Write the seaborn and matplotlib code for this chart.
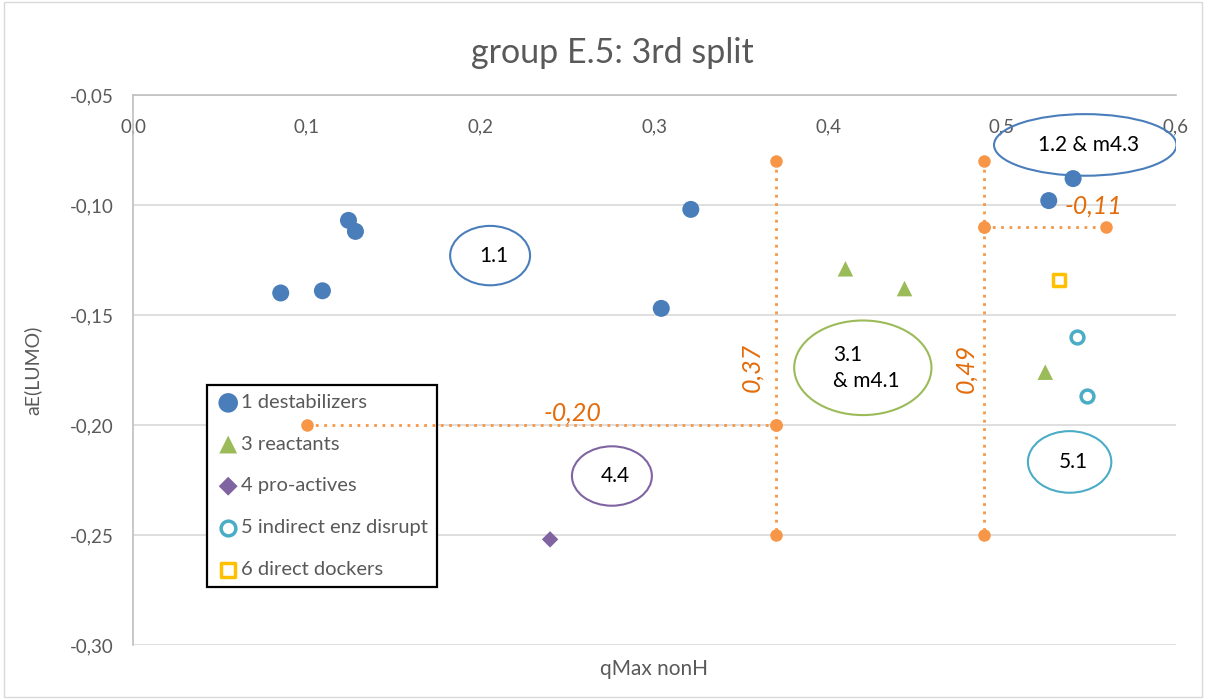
import numpy as np
import pandas as pd
import seaborn as sns
import matplotlib.pyplot as plt
from matplotlib.patches import Ellipse, Rectangle
from matplotlib.ticker import FuncFormatter, MultipleLocator

# points (qMax nonH, aE(LUMO))
destab_x = [0.085, 0.109, 0.124, 0.128, 0.304, 0.321, 0.527, 0.541]
destab_y = [-0.140, -0.139, -0.107, -0.112, -0.147, -0.102, -0.098, -0.088]
react_x = [0.410, 0.444, 0.525]
react_y = [-0.129, -0.138, -0.176]
proact_x = [0.240]
proact_y = [-0.252]
indirect_x = [0.543, 0.549]
indirect_y = [-0.160, -0.187]
docker_x = [0.533]
docker_y = [-0.134]

# split lines (orange dotted)
split_lines = [
    ([0.37, 0.37, 0.37], [-0.08, -0.20, -0.25]),
    ([0.10, 0.37], [-0.20, -0.20]),
    ([0.49, 0.49, 0.49], [-0.08, -0.11, -0.25]),
    ([0.49, 0.56], [-0.11, -0.11]),
]

# cluster ellipses: label, centre x, centre y, width, height, colour
cluster_labels = ["1.1", "1.2 & m4.3", "3.1\n& m4.1", "4.4", "5.1"]
cluster_x = [0.2055, 0.548, 0.420, 0.2756, 0.539]
cluster_y = [-0.123, -0.0727, -0.174, -0.2232, -0.2168]
cluster_w = [0.046, 0.105, 0.079, 0.046, 0.048]
cluster_h = [0.027, 0.028, 0.043, 0.027, 0.028]
cluster_col = ["#4a7ebb", "#4a7ebb", "#9bbb59", "#8064a2", "#4bacc6"]

data = pd.DataFrame({
    "x": destab_x + react_x + proact_x + indirect_x + docker_x,
    "y": destab_y + react_y + proact_y + indirect_y + docker_y,
    "group": (["1 destabilizers"] * len(destab_x) + ["3 reactants"] * len(react_x)
              + ["4 pro-actives"] * len(proact_x) + ["5 indirect enz disrupt"] * len(indirect_x)
              + ["6 direct dockers"] * len(docker_x)),
})

# marker, colour, filled, size
styles = {
    "1 destabilizers": ("o", "#4a7ebb", True, 150),
    "3 reactants": ("^", "#9bbb59", True, 125),
    "4 pro-actives": ("D", "#8064a2", True, 70),
    "5 indirect enz disrupt": ("o", "#4bacc6", False, 85),
    "6 direct dockers": ("s", "#ffc000", False, 85),
}

sns.set_style("white")
plt.rcParams["font.family"] = ["Lato", "DejaVu Sans"]

fig = plt.figure(figsize=(12.06, 6.99), dpi=100)
ax = fig.add_axes([0.1103, 0.0773, 0.8645, 0.7868])

for grp, (mk, col, filled, size) in styles.items():
    sub = data[data["group"] == grp]
    if filled:
        sns.scatterplot(data=sub, x="x", y="y", ax=ax, marker=mk, color=col, s=size,
                        edgecolor="none", label=grp, zorder=4)
    else:
        sns.scatterplot(data=sub, x="x", y="y", ax=ax, marker=mk, s=size,
                        facecolor="white", edgecolor=col, linewidth=2.5, label=grp, zorder=4)

for xs, ys in split_lines:
    ax.plot(xs, ys, linestyle=(0, (1, 2)), color="#f79646", linewidth=2,
            marker="o", markersize=9, markeredgewidth=0, zorder=6)

orange_txt = "#e46c0a"
ax.text(0.253, -0.1945, "-0,20", color=orange_txt, fontsize=18, style="italic",
        ha="center", va="center")
ax.text(0.553, -0.1005, "-0,11", color=orange_txt, fontsize=18, style="italic",
        ha="center", va="center")
ax.text(0.356, -0.174, "0,37", color=orange_txt, fontsize=18, style="italic",
        rotation=90, ha="center", va="center")
ax.text(0.479, -0.1745, "0,49", color=orange_txt, fontsize=18, style="italic",
        rotation=90, ha="center", va="center")

for lab, cx, cy, w, h, col in zip(cluster_labels, cluster_x, cluster_y, cluster_w, cluster_h, cluster_col):
    ax.add_patch(Ellipse((cx, cy), w, h, facecolor="none", edgecolor=col, linewidth=1.5, zorder=2))
    if "\n" in lab:
        ax.text(cx - 0.017, cy, lab, fontsize=15, ha="left", va="center", color="black",
                linespacing=1.35)
    else:
        ax.text(cx + 0.002, cy, lab, fontsize=15, ha="center", va="center", color="black")

ax.set_xlim(0, 0.6)
ax.set_ylim(-0.30, -0.05)
ax.xaxis.set_major_locator(MultipleLocator(0.1))
ax.yaxis.set_major_locator(MultipleLocator(0.05))
ax.xaxis.set_major_formatter(FuncFormatter(lambda v, p: f"{v:.1f}".replace(".", ",")))
ax.yaxis.set_major_formatter(FuncFormatter(lambda v, p: f"{v:.2f}".replace(".", ",")))
ax.tick_params(axis="x", top=True, labeltop=True, bottom=False, labelbottom=False,
               length=0, pad=-29, labelsize=13.5, labelcolor="#595959")
ax.tick_params(axis="y", length=0, pad=14, labelsize=13.5, labelcolor="#595959")

ax.grid(axis="y", color="#d9d9d9", linewidth=1.2)
ax.grid(axis="x", visible=False)
for side in ["right", "bottom"]:
    ax.spines[side].set_visible(False)
for side in ["top", "left"]:
    ax.spines[side].set_color("#bfbfbf")
    ax.spines[side].set_linewidth(1.2)

ax.set_xlabel("qMax nonH", fontsize=15, color="#595959", labelpad=10)
ax.set_ylabel("aE(LUMO)", fontsize=14, color="#595959", labelpad=20)
fig.text(0.5075, 0.924, "group E.5: 3rd split", fontsize=24.5, color="#595959",
         ha="center", va="center")

leg = ax.legend(loc="upper left", bbox_to_anchor=(0.071, 0.4727), fontsize=14.5,
                frameon=True, fancybox=False, edgecolor="black", labelspacing=1.22,
                handletextpad=0.05, handlelength=1.2, borderpad=0.45, borderaxespad=0,
                framealpha=1, markerscale=1.15)
leg.get_frame().set_linewidth(1.6)
leg.set_zorder(5)
for t in leg.get_texts():
    t.set_color("#595959")

fig.patches.append(Rectangle((0.003, 0.003), 0.994, 0.994, transform=fig.transFigure,
                             fill=False, edgecolor="#d9d9d9", linewidth=1))

fig.savefig("out.png", dpi=100)
